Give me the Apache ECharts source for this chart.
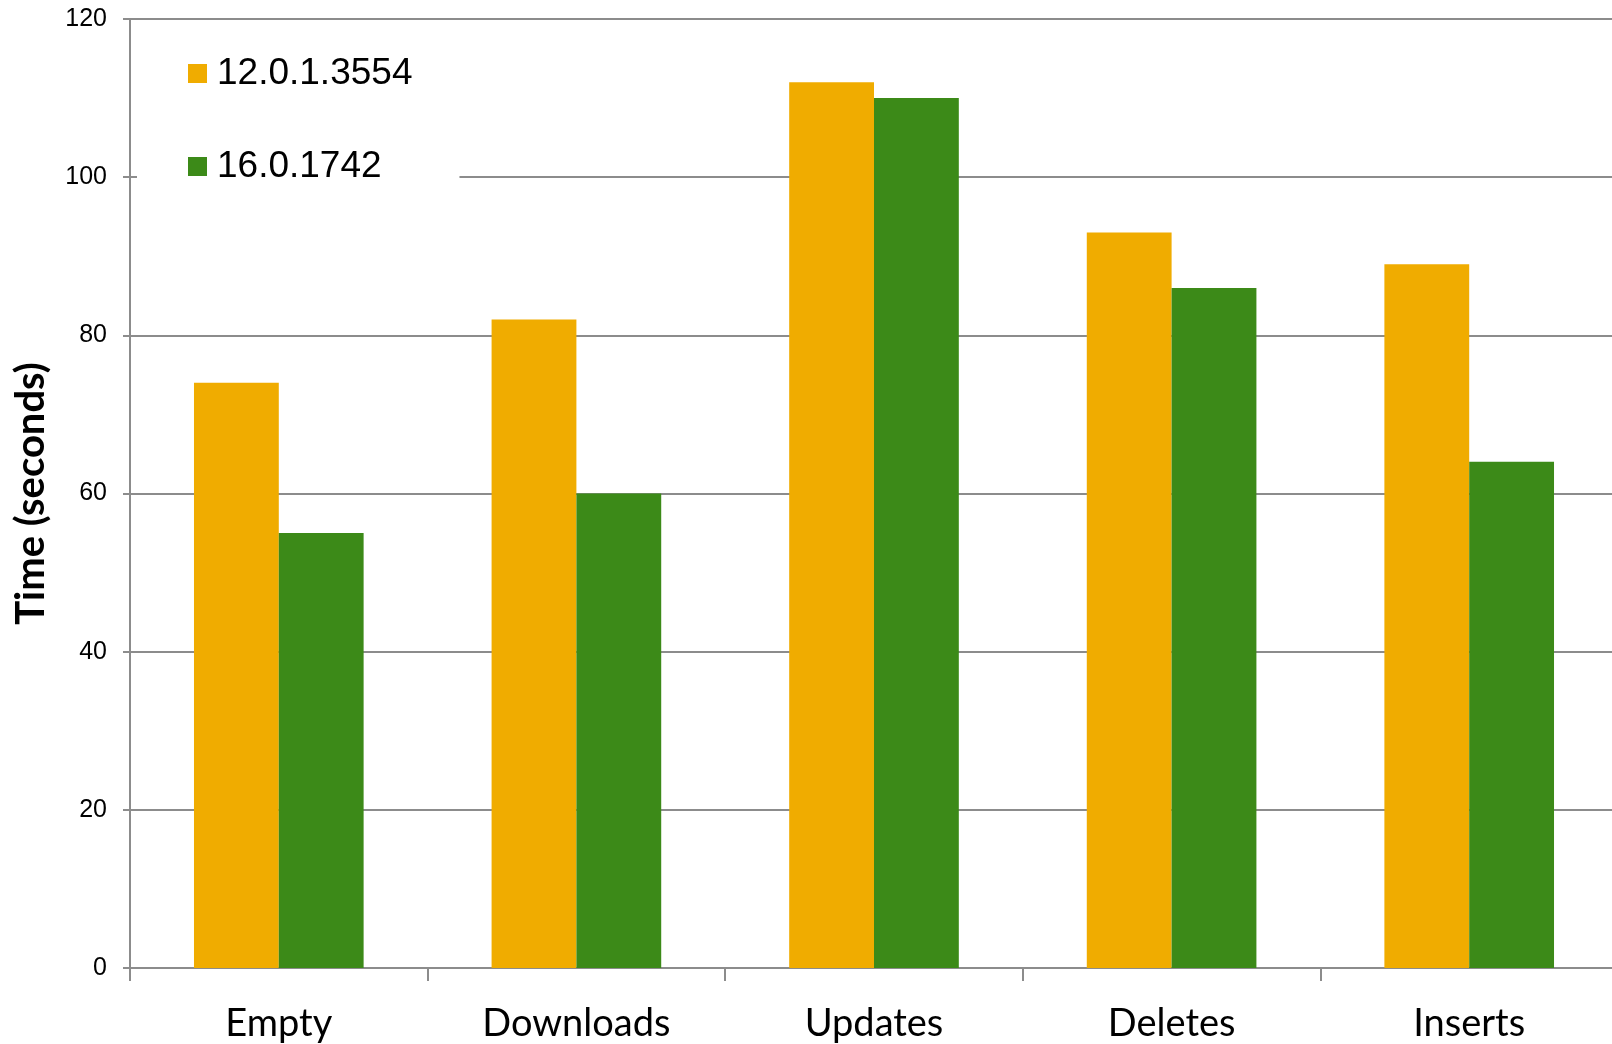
<!DOCTYPE html>
<html>
<head>
<meta charset="utf-8">
<script src="https://cdn.jsdelivr.net/npm/echarts@6/dist/echarts.min.js"></script>
<style>
html,body{margin:0;padding:0;background:#fff;}
#chart{width:1612px;height:1044px;}
</style>
</head>
<body>
<div id="chart"></div>
<script>
const categories = ['Empty', 'Downloads', 'Updates', 'Deletes', 'Inserts'];
const seriesNames = ['12.0.1.3554', '16.0.1742'];
const v12 = [74, 82, 112, 93, 89];
const v16 = [55, 60, 110, 86, 64];
const yTicks = { min: 0, max: 120, interval: 20 };

const chart = echarts.init(document.getElementById('chart'), null, {renderer: 'canvas'});
const axisGrey = '#8c8c8c';
chart.setOption({
  backgroundColor: '#fff',
  animation: false,
  grid: { left: 130, right: -6, top: 19, bottom: 76, containLabel: false, outerBoundsMode: 'none' },
  legend: {
    orient: 'vertical',
    left: 137,
    top: 30,
    padding: [25, 47, 12, 51],
    backgroundColor: '#fff',
    itemWidth: 19,
    itemHeight: 19,
    itemGap: 56,
    icon: 'rect',
    textStyle: { fontFamily: 'Liberation Sans, Arial, sans-serif', fontSize: 37, color: '#000', lineHeight: 37, padding: [0, 0, 0, 5] },
    data: seriesNames
  },
  xAxis: {
    type: 'category',
    data: categories,
    axisLine: { show: true, lineStyle: { color: axisGrey, width: 2 } },
    axisTick: { show: true, length: 13, lineStyle: { color: axisGrey, width: 2 }, alignWithLabel: false },
    axisLabel: { fontFamily: 'Lato, sans-serif', fontSize: 38, color: '#000', margin: 37 },
    splitLine: { show: false }
  },
  yAxis: {
    type: 'value',
    min: yTicks.min, max: yTicks.max, interval: yTicks.interval,
    name: 'Time (seconds)',
    nameLocation: 'middle',
    nameRotate: 90,
    nameGap: 79,
    nameTextStyle: { fontFamily: 'Lato, sans-serif', fontWeight: 'bold', fontSize: 40, color: '#000' },
    axisLine: { show: true, lineStyle: { color: axisGrey, width: 2 } },
    axisTick: { show: true, length: 7, lineStyle: { color: axisGrey, width: 2 } },
    axisLabel: { fontFamily: 'Liberation Sans, Arial, sans-serif', fontSize: 25, color: '#000', margin: 23 },
    splitLine: { show: true, lineStyle: { color: axisGrey, width: 2 } }
  },
  series: [
    { name: seriesNames[0], type: 'bar', data: v12, itemStyle: { color: '#F0AC00' }, barGap: '0%', barCategoryGap: '43%' },
    { name: seriesNames[1], type: 'bar', data: v16, itemStyle: { color: '#3C8A18' }, barGap: '0%', barCategoryGap: '43%' }
  ]
});
</script>
</body>
</html>
